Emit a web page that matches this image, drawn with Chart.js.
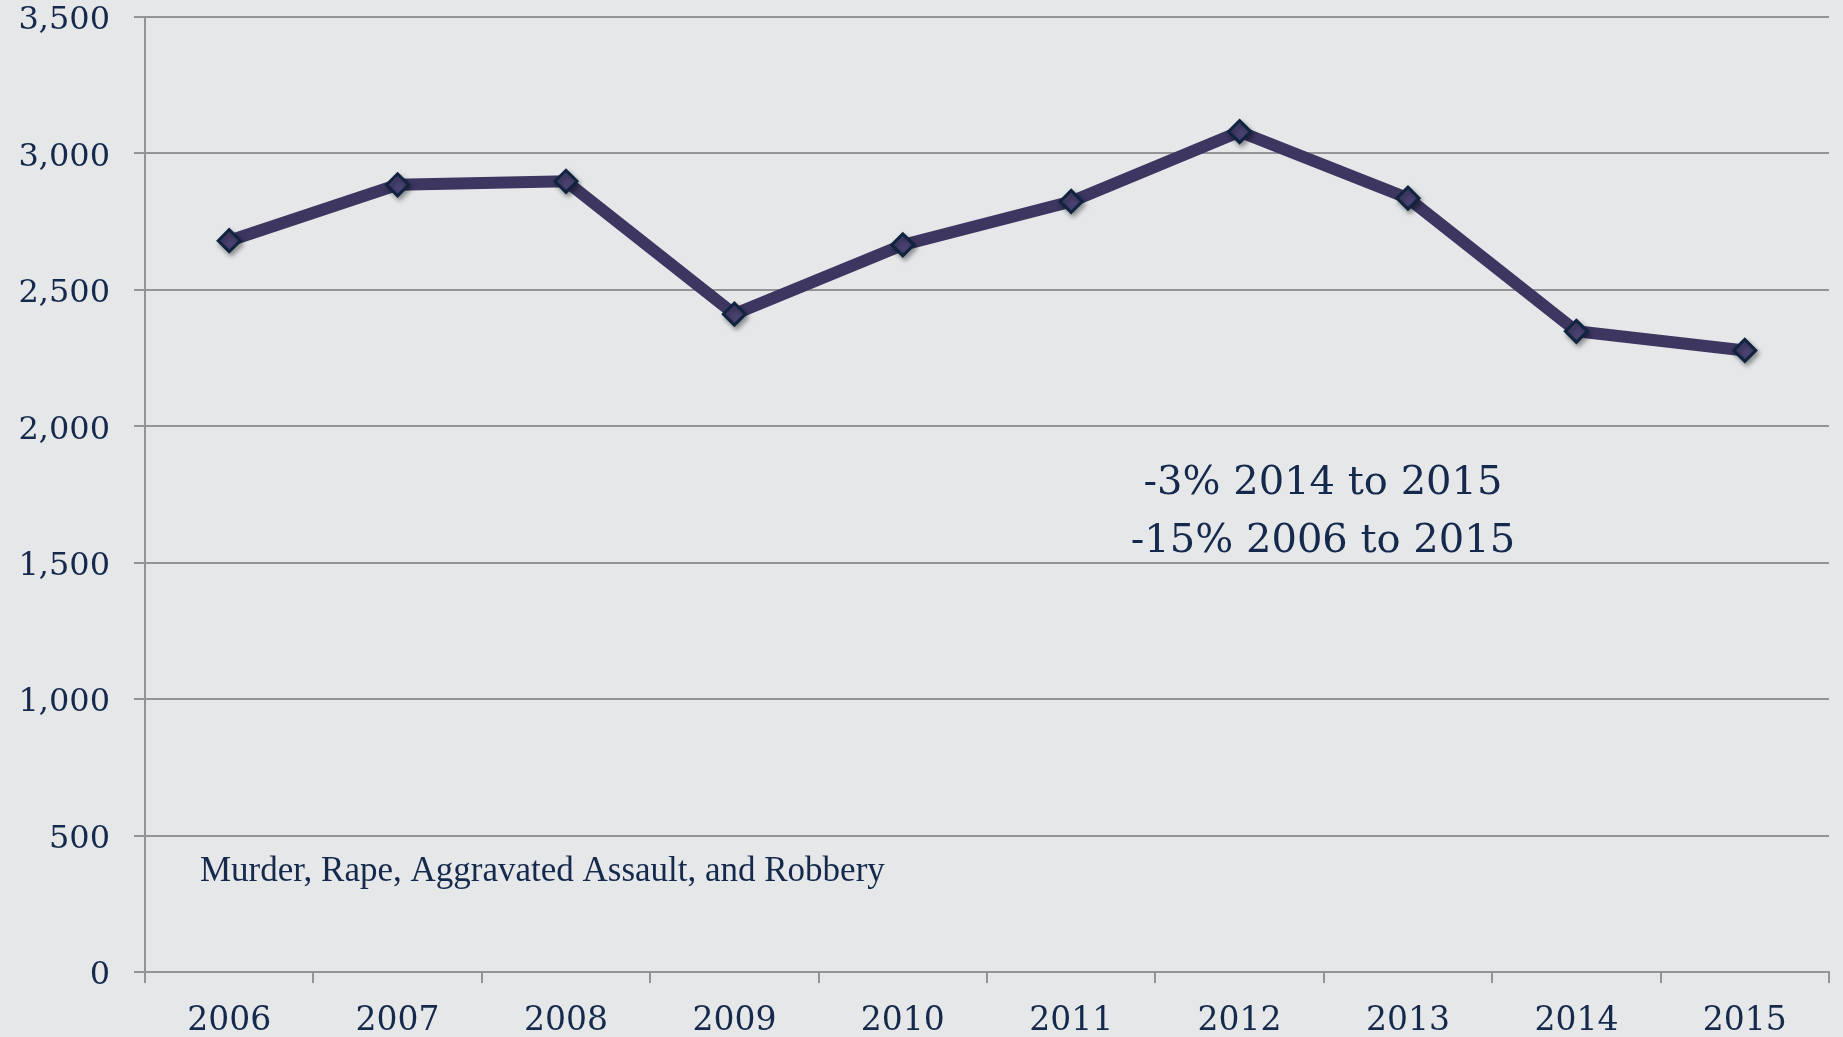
<!DOCTYPE html>
<html>
<head>
<meta charset="utf-8">
<script src="https://cdn.jsdelivr.net/npm/chart.js@4/dist/chart.umd.min.js"></script>
<style>
  html, body { margin: 0; padding: 0; background: #e6e7e9; }
  #wrap { width: 1843px; height: 1037px; }
</style>
</head>
<body>
<div id="wrap"><canvas id="chart"></canvas></div>
<script>
const years = ['2006', '2007', '2008', '2009', '2010', '2011', '2012', '2013', '2014', '2015'];
const crimes = [2680, 2885, 2898, 2411, 2665, 2824, 3080, 2836, 2348, 2278];
const yTicks = [0, 500, 1000, 1500, 2000, 2500, 3000, 3500];
const noteLines = ['-3% 2014 to 2015', '-15% 2006 to 2015'];
const subtitle = 'Murder, Rape, Aggravated Assault, and Robbery';

const textColor = '#14294b';
const gridColor = '#939496';

// text boxes drawn on top of the plot
const notes = {
  id: 'notes',
  afterDraw(chart) {
    const { ctx } = chart;
    ctx.save();
    ctx.fillStyle = textColor;
    ctx.textAlign = 'center';
    ctx.textBaseline = 'middle';
    ctx.font = '40px "DejaVu Serif"';
    noteLines.forEach((t, i) => ctx.fillText(t, 1323, 484 + i * 58));
    ctx.textAlign = 'left';
    ctx.font = '35px "Liberation Serif"';
    ctx.fillText(subtitle, 200, 872);
    ctx.restore();
  }
};

const bg = {
  id: 'bg',
  beforeDraw(chart) {
    const { ctx } = chart;
    ctx.save();
    ctx.fillStyle = '#e6e7e9';
    ctx.fillRect(0, 0, chart.width, chart.height);
    ctx.restore();
  }
};

// soft drop shadow under the diamond markers only
const markerShadow = {
  id: 'markerShadow',
  beforeDatasetDraw(chart, args) {
    if (args.index !== 1) return;
    const ctx = chart.ctx;
    ctx.save();
    ctx.shadowColor = 'rgba(0,0,0,0.35)';
    ctx.shadowBlur = 5;
    ctx.shadowOffsetX = 2;
    ctx.shadowOffsetY = 3;
  },
  afterDatasetDraw(chart, args) {
    if (args.index !== 1) return;
    chart.ctx.restore();
  }
};

new Chart(document.getElementById('chart'), {
  type: 'line',
  data: {
    labels: years,
    datasets: [{
      data: crimes,
      order: 1,
      borderColor: '#3d3661',
      borderWidth: 12,
      pointRadius: 0,
      tension: 0
    }, {
      data: crimes,
      order: 0,
      showLine: false,
      pointStyle: 'rectRot',
      pointRadius: 11,
      pointBorderWidth: 3,
      pointBackgroundColor: '#4a4272',
      pointBorderColor: '#10243f'
    }]
  },
  options: {
    responsive: true,
    maintainAspectRatio: false,
    animation: false,
    layout: { padding: { top: 17, right: 6, bottom: 0, left: 0 } },
    plugins: {
      legend: { display: false },
      tooltip: { enabled: false }
    },
    scales: {
      x: {
        offset: true,
        grid: {
          offset: true,
          drawOnChartArea: false,
          color: gridColor,
          lineWidth: 2,
          tickLength: 11
        },
        border: { color: gridColor, width: 2 },
        ticks: {
          color: textColor,
          font: { family: 'DejaVu Serif', size: 33 },
          padding: 19,
          maxRotation: 0
        },
        afterFit(scale) { scale.height = 65; }
      },
      y: {
        min: 0,
        max: 3500,
        afterBuildTicks(scale) { scale.ticks = yTicks.map(v => ({ value: v })); },
        grid: { color: gridColor, lineWidth: 2, tickLength: 11 },
        border: { color: gridColor, width: 2 },
        ticks: {
          color: textColor,
          font: { family: 'DejaVu Serif', size: 32 },
          padding: 24,
          labelOffset: 4,
          callback: v => v.toLocaleString('en-US')
        },
        afterFit(scale) {
          scale.width = 145;
          scale.paddingTop = 0;
          scale.paddingBottom = 0;
        }
      }
    }
  },
  plugins: [bg, markerShadow, notes]
});
</script>
</body>
</html>
